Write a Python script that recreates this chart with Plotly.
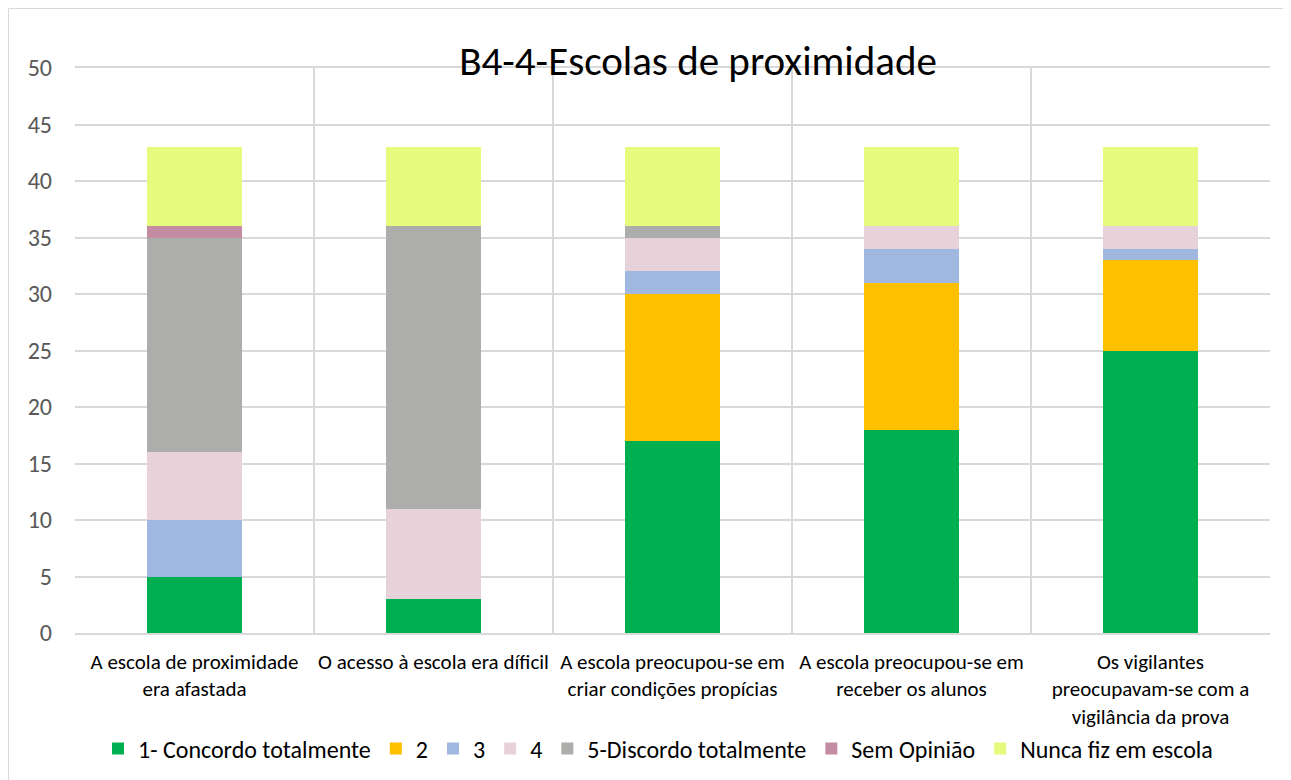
import plotly.graph_objects as go

categories = [
    "A escola de proximidade<br>era afastada",
    "O acesso à escola era díficil",
    "A escola preocupou-se em<br>criar condições propícias",
    "A escola preocupou-se em<br>receber os alunos",
    "Os vigilantes<br>preocupavam-se com a<br>vigilância da prova",
]
series_names = ["1- Concordo totalmente", "2", "3", "4", "5-Discordo totalmente", "Sem Opinião", "Nunca fiz em escola"]
v1 = [5, 3, 17, 18, 25]
v2 = [0, 0, 13, 13, 8]
v3 = [5, 0, 2, 3, 1]
v4 = [6, 8, 3, 2, 2]
v5 = [19, 25, 1, 0, 0]
v_sem = [1, 0, 0, 0, 0]
v_nunca = [7, 7, 7, 7, 7]
series_values = [v1, v2, v3, v4, v5, v_sem, v_nunca]
colors = ["#00b050", "#ffc000", "#a0b8e0", "#e8d2da", "#adadab", "#c48ca3", "#e6fb7e"]

xpos = list(range(len(categories)))

fig = go.Figure()
for name, vals, c in zip(series_names, series_values, colors):
    fig.add_trace(go.Bar(x=xpos, y=vals, name=name, marker=dict(color=c, line=dict(width=0)), width=0.4))

font_family = "Carlito, Calibri, Open Sans, sans-serif"
# page body adds an 8px offset, so the figure is sized to the remaining viewport
W, H = 1283, 772
ml, mt = 67, 60
pw, ph = 1195, 565
mr, mb = W - ml - pw, H - mt - ph

fig.update_layout(
    width=W, height=H,
    barmode="stack",
    plot_bgcolor="white", paper_bgcolor="white",
    margin=dict(l=ml, r=mr, t=mt, b=mb, autoexpand=False),
    font=dict(family=font_family, color="#000000"),
    title=dict(text="B4-4-Escolas de proximidade", x=(698 - 8) / W, y=1 - (61 - 8) / H, xanchor="center", yanchor="middle",
               xref="container", yref="container", font=dict(size=41, color="#000000", family=font_family)),
    showlegend=True,
    legend=dict(orientation="h", x=(658 - 75) / pw, xanchor="center", y=-(749 - 633) / ph, yanchor="middle",
                font=dict(size=24, color="#000000"), traceorder="normal", itemwidth=30),
    xaxis=dict(
        tickmode="array", tickvals=xpos, ticktext=categories,
        range=[-0.5, len(categories) - 0.5],
        showgrid=False, zeroline=False,
        showline=True, mirror=True, linecolor="#d9d9d9", linewidth=1.5,
        tickfont=dict(size=21, color="#000000"), ticks="", ticklabelstandoff=9,
        minor=dict(tick0=0.5, dtick=1, showgrid=True, gridcolor="#d9d9d9", gridwidth=1.5),
    ),
    yaxis=dict(
        range=[0, 50], dtick=5, showgrid=True, gridcolor="#d9d9d9", gridwidth=1.5,
        zeroline=False, tickfont=dict(size=24, color="#595959"), ticks="", ticklabelstandoff=22,
    ),
    shapes=[dict(type="rect", xref="paper", yref="paper",
                 x0=(0.5 - ml) / pw, x1=(W + 20 - ml) / pw,
                 y0=-(H + 20 - (mt + ph)) / ph, y1=1 + (mt - 0.5) / ph,
                 line=dict(color="#d9d9d9", width=1), fillcolor="rgba(0,0,0,0)", layer="below")],
)

fig.write_html("out.html")
